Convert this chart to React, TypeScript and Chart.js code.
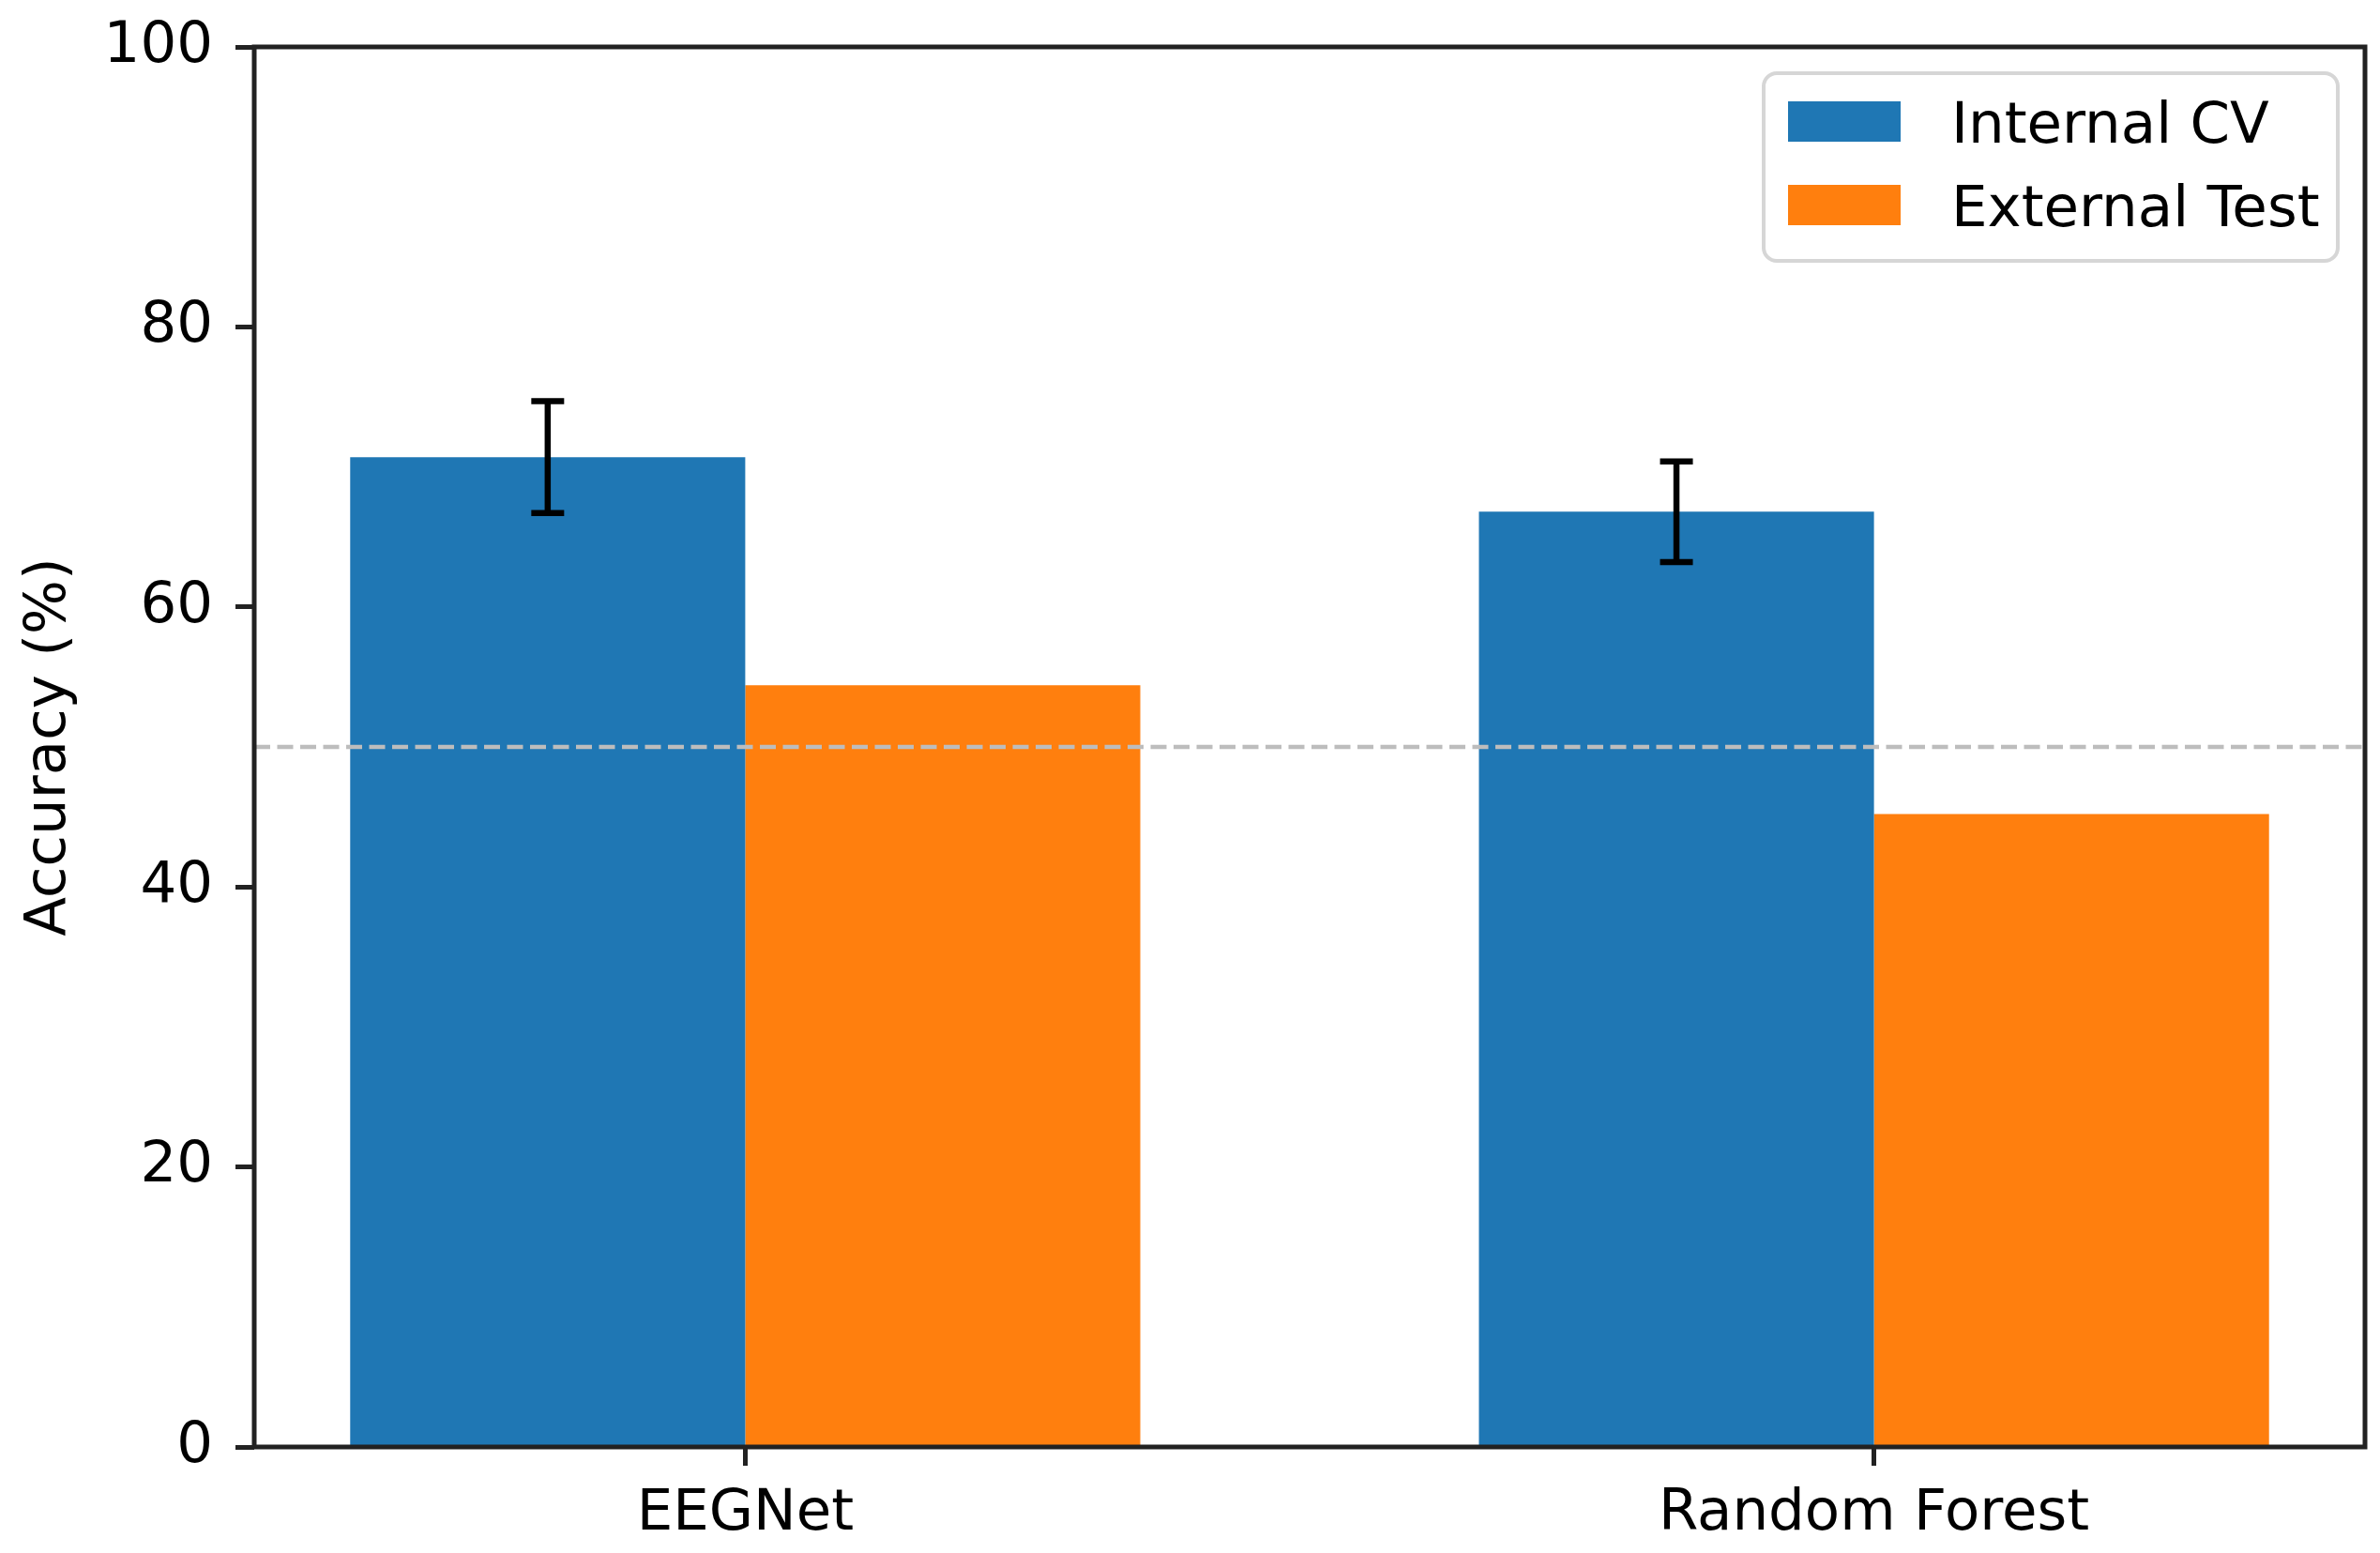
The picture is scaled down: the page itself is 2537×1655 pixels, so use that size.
import React, { useEffect, useRef } from "react";
import { Chart, registerables } from "chart.js";

Chart.register(...registerables);

const categories = ["EEGNet", "Random Forest"];
const seriesNames = ["Internal CV", "External Test"];
const internalCV = [70.7, 66.8];
const internalErr = [4.0, 3.6];
const externalTest = [54.4, 45.2];
const chanceLevel = 50;
const yTicks = [0, 20, 40, 60, 80, 100];
const colors = ["#1f77b4", "#ff7f0e"];

const FONT = "DejaVu Sans";
const FS = 61;

export default function App() {
  const ref = useRef<HTMLCanvasElement | null>(null);

  useEffect(() => {
    if (!ref.current) return;

    const overlay = {
      id: "overlay",
      afterDatasetsDraw(chart: any) {
        const ctx = chart.ctx;
        const y = chart.scales.y;
        const area = chart.chartArea;
        // chance line
        ctx.save();
        ctx.strokeStyle = "#bdbdbd";
        ctx.lineWidth = 4.5;
        ctx.setLineDash([17, 7.5]);
        const yy = y.getPixelForValue(chanceLevel);
        ctx.beginPath();
        ctx.moveTo(area.left, yy);
        ctx.lineTo(area.right, yy);
        ctx.stroke();
        ctx.restore();
        // error bars
        const meta = chart.getDatasetMeta(0);
        ctx.save();
        ctx.strokeStyle = "#000";
        ctx.lineWidth = 6.5;
        meta.data.forEach((el: any, i: number) => {
          const x = el.x;
          const top = y.getPixelForValue(internalCV[i] + internalErr[i]);
          const bot = y.getPixelForValue(internalCV[i] - internalErr[i]);
          ctx.beginPath();
          ctx.moveTo(x, top);
          ctx.lineTo(x, bot);
          ctx.moveTo(x - 17.5, top);
          ctx.lineTo(x + 17.5, top);
          ctx.moveTo(x - 17.5, bot);
          ctx.lineTo(x + 17.5, bot);
          ctx.stroke();
        });
        ctx.restore();
      },
      afterDraw(chart: any) {
        const ctx = chart.ctx;
        const a = chart.chartArea;
        // spines
        ctx.save();
        ctx.strokeStyle = "#222";
        ctx.lineWidth = 5;
        ctx.strokeRect(a.left, a.top, a.right - a.left, a.bottom - a.top);
        ctx.restore();
        // legend
        const bx = a.right - 641;
        const by = a.top + 28;
        const bw = 612;
        const bh = 200;
        ctx.save();
        ctx.beginPath();
        (ctx as any).roundRect(bx, by, bw, bh, 14);
        ctx.fillStyle = "rgba(255,255,255,0.8)";
        ctx.fill();
        ctx.strokeStyle = "#d6d6d6";
        ctx.lineWidth = 4;
        ctx.stroke();
        ctx.font = `${FS}px "${FONT}"`;
        ctx.textBaseline = "alphabetic";
        ctx.textAlign = "left";
        seriesNames.forEach((name, i) => {
          const cy = by + 52 + i * 89;
          ctx.fillStyle = colors[i];
          ctx.fillRect(bx + 26, cy - 22, 120, 43);
          ctx.fillStyle = "#000";
          ctx.fillText(name, bx + 200, cy + 22);
        });
        ctx.restore();
      },
    };

    const chart = new Chart(ref.current, {
      type: "bar",
      data: {
        datasets: [
          {
            label: seriesNames[0],
            data: categories.map((_, i) => ({ x: i, y: internalCV[i] })),
            backgroundColor: colors[0],
            borderWidth: 0,
          },
          {
            label: seriesNames[1],
            data: categories.map((_, i) => ({ x: i, y: externalTest[i] })),
            backgroundColor: colors[1],
            borderWidth: 0,
          },
        ],
      },
      options: {
        animation: false,
        responsive: true,
        maintainAspectRatio: false,
        layout: { padding: { left: 0, top: 50, right: 16, bottom: 0 } },
        datasets: {
          bar: { categoryPercentage: 0.7, barPercentage: 1.0, grouped: true },
        },
        plugins: {
          legend: { display: false },
          tooltip: { enabled: false },
        },
        scales: {
          x: {
            type: "linear",
            offset: false,
            min: -0.435,
            max: 1.435,
            afterBuildTicks: (scale: any) => {
              scale.ticks = categories.map((_, i) => ({ value: i }));
            },
            afterFit: (scale: any) => {
              scale.height = 113;
              scale.paddingLeft = 0;
              scale.paddingRight = 0;
            },
            ticks: {
              callback: (v: any) => categories[v as number] ?? "",
              color: "#000",
              font: { family: FONT, size: FS },
              padding: 16,
              maxRotation: 0,
              autoSkip: false,
            },
            grid: {
              display: true,
              offset: false,
              drawOnChartArea: false,
              drawTicks: true,
              tickLength: 20,
              tickWidth: 5,
              tickColor: "#222",
            },
            border: { display: false },
          },
          y: {
            min: 0,
            max: 100,
            afterBuildTicks: (scale: any) => {
              scale.ticks = yTicks.map((v) => ({ value: v }));
            },
            afterFit: (scale: any) => {
              scale.width = 271;
              scale.paddingTop = 0;
              scale.paddingBottom = 0;
            },
            ticks: {
              color: "#000",
              font: { family: FONT, size: FS },
              padding: 24,
            },
            grid: {
              display: true,
              offset: false,
              drawOnChartArea: false,
              drawTicks: true,
              tickLength: 20,
              tickWidth: 5,
              tickColor: "#222",
            },
            border: { display: false },
            title: {
              display: true,
              text: "Accuracy (%)",
              color: "#000",
              font: { family: FONT, size: FS },
              padding: { top: 17, bottom: 0 },
            },
          },
        },
      },
      plugins: [overlay],
    });

    return () => chart.destroy();
  }, []);

  return (
    <div
      style={{
        position: "fixed",
        left: 0,
        top: 0,
        width: "2537px",
        height: "1655px",
        background: "#fff",
      }}
    >
      <canvas ref={ref} />
    </div>
  );
}
